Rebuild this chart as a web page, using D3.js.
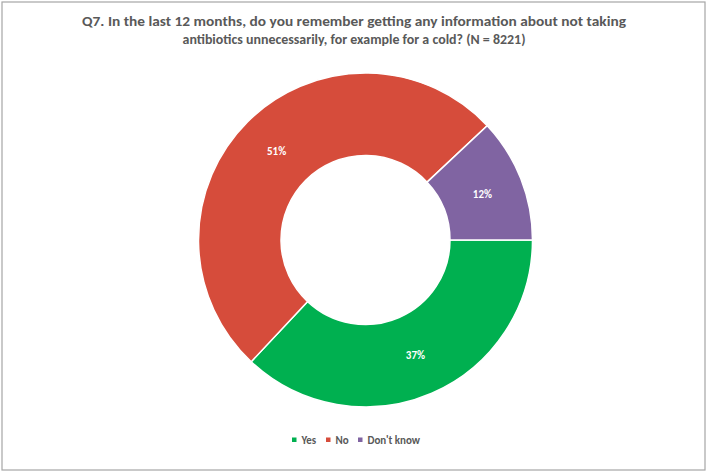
<!DOCTYPE html>
<html><head><meta charset="utf-8">
<script src="https://cdn.jsdelivr.net/npm/d3@7"></script>
<style>body{margin:0;background:#fff}svg{display:block}</style>
</head><body>
<script>
const categories = ["Yes", "No", "Don't know"];
const values = [37, 51, 12];
const colors = ["#00B050", "#D64C3B", "#8064A2"];
const titleLines = ["Q7. In the last 12 months, do you remember getting any information about not taking",
                    "antibiotics unnecessarily, for example for a cold? (N = 8221)"];

const W = 708, H = 473;
const svg = d3.select("body").append("svg").attr("width", W).attr("height", H);
svg.append("rect").attr("x", 2).attr("y", 2).attr("width", 703).attr("height", 468)
  .attr("fill", "#fff").attr("stroke", "#a6a6a6").attr("stroke-width", 1.2);

const font = "Calibri, Carlito, 'Open Sans', sans-serif";
svg.selectAll("text.title").data(titleLines).join("text")
  .attr("x", 354).attr("y", (d, i) => 25.5 + i * 18)
  .attr("text-anchor", "middle").attr("font-family", font).attr("font-weight", "bold")
  .attr("font-size", 14.5).attr("fill", "#595959")
  .attr("textLength", (d, i) => i === 0 ? 544 : 343).attr("lengthAdjust", "spacingAndGlyphs")
  .text(d => d);

const cx = 365.5, cy = 240, R = 167, r = 84.5;
const pie = d3.pie().sort(null).startAngle(Math.PI / 2).endAngle(Math.PI / 2 + 2 * Math.PI);
const arcs = pie(values);
const arc = d3.arc().innerRadius(r).outerRadius(R);
const g = svg.append("g").attr("transform", `translate(${cx},${cy})`);
g.selectAll("path").data(arcs).join("path")
  .attr("d", arc).attr("fill", (d, i) => colors[i])
  .attr("stroke", "#fff").attr("stroke-width", 1.5);
g.selectAll("text").data(arcs).join("text")
  .attr("transform", d => `translate(${arc.centroid(d)})`)
  .attr("text-anchor", "middle").attr("dy", "0.35em")
  .attr("font-family", font).attr("font-weight", "bold").attr("font-size", 11)
  .attr("fill", "#fff").text(d => d.data + "%");

// legend
const legX = [292, 326, 358];
const lg = svg.append("g");
categories.forEach((c, i) => {
  lg.append("rect").attr("x", legX[i]).attr("y", 437.5).attr("width", 4.5).attr("height", 4.5).attr("fill", colors[i]);
  lg.append("text").attr("x", legX[i] + 9.5).attr("y", 443.5)
    .attr("font-family", font).attr("font-weight", "bold").attr("font-size", 11)
    .attr("fill", "#595959").text(c);
});
</script>
</body></html>
